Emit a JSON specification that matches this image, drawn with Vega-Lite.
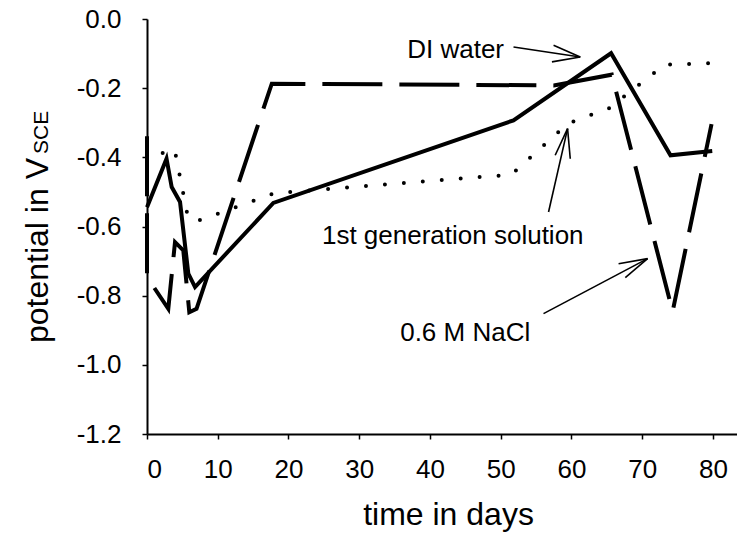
{
  "$schema": "https://vega.github.io/schema/vega-lite/v6.json",
  "width": 590,
  "height": 415,
  "autosize": {"type": "none"},
  "padding": {"left": 147, "top": 19, "right": 0, "bottom": 101},
  "background": "white",
  "config": {
    "view": {"stroke": null},
    "font": "Liberation Sans",
    "axis": {
      "grid": false,
      "domainColor": "black",
      "domainWidth": 2,
      "tickColor": "black",
      "tickWidth": 1.5,
      "labelColor": "black",
      "titleColor": "black",
      "labelFont": "Liberation Sans",
      "titleFont": "Liberation Sans",
      "titleFontWeight": "normal"
    }
  },
  "datasets": {
    "series": [
      {"series": "DI water", "i": 1, "day": 0, "v": -0.544},
      {"series": "DI water", "i": 2, "day": 2.76, "v": -0.404},
      {"series": "DI water", "i": 3, "day": 3.49, "v": -0.486},
      {"series": "DI water", "i": 4, "day": 4.67, "v": -0.529},
      {"series": "DI water", "i": 5, "day": 5.84, "v": -0.736},
      {"series": "DI water", "i": 6, "day": 6.79, "v": -0.775},
      {"series": "DI water", "i": 7, "day": 17.86, "v": -0.532},
      {"series": "DI water", "i": 8, "day": 51.8, "v": -0.293},
      {"series": "DI water", "i": 9, "day": 65.6, "v": -0.099},
      {"series": "DI water", "i": 10, "day": 74.0, "v": -0.394},
      {"series": "DI water", "i": 11, "day": 79.9, "v": -0.382},
      {"series": "0.6 M NaCl", "i": 1, "day": 0, "v": -0.339},
      {"series": "0.6 M NaCl", "i": 2, "day": 0, "v": -0.746},
      {"series": "0.6 M NaCl", "i": 3, "day": 3.01, "v": -0.838},
      {"series": "0.6 M NaCl", "i": 4, "day": 3.96, "v": -0.645},
      {"series": "0.6 M NaCl", "i": 5, "day": 5.13, "v": -0.669},
      {"series": "0.6 M NaCl", "i": 6, "day": 5.98, "v": -0.848},
      {"series": "0.6 M NaCl", "i": 7, "day": 7.0, "v": -0.838},
      {"series": "0.6 M NaCl", "i": 8, "day": 17.64, "v": -0.187},
      {"series": "0.6 M NaCl", "i": 9, "day": 57.5, "v": -0.192},
      {"series": "0.6 M NaCl", "i": 10, "day": 65.7, "v": -0.161},
      {"series": "0.6 M NaCl", "i": 11, "day": 74.3, "v": -0.846},
      {"series": "0.6 M NaCl", "i": 12, "day": 79.8, "v": -0.304},
      {"series": "1st generation solution", "i": 1, "day": 0, "v": -0.365},
      {"series": "1st generation solution", "i": 2, "day": 1.6, "v": -0.391},
      {"series": "1st generation solution", "i": 3, "day": 3.9, "v": -0.377},
      {"series": "1st generation solution", "i": 4, "day": 5.8, "v": -0.575},
      {"series": "1st generation solution", "i": 5, "day": 7.0, "v": -0.585},
      {"series": "1st generation solution", "i": 6, "day": 18.0, "v": -0.504},
      {"series": "1st generation solution", "i": 7, "day": 51.5, "v": -0.45},
      {"series": "1st generation solution", "i": 8, "day": 59.5, "v": -0.302},
      {"series": "1st generation solution", "i": 9, "day": 65.3, "v": -0.258},
      {"series": "1st generation solution", "i": 10, "day": 73.2, "v": -0.132},
      {"series": "1st generation solution", "i": 11, "day": 79.8, "v": -0.128}
    ],
    "arrows": [
      {"day": 51.81, "v": -0.081, "day2": 61.24, "v2": -0.110},
      {"day": 61.24, "v": -0.110, "day2": 57.47, "v2": -0.076},
      {"day": 61.24, "v": -0.110, "day2": 57.24, "v2": -0.124},
      {"day": 56.76, "v": -0.558, "day2": 59.45, "v2": -0.317},
      {"day": 59.45, "v": -0.317, "day2": 57.7, "v2": -0.394},
      {"day": 59.45, "v": -0.317, "day2": 59.83, "v2": -0.404},
      {"day": 56.05, "v": -0.852, "day2": 70.76, "v2": -0.693},
      {"day": 70.76, "v": -0.693, "day2": 66.66, "v2": -0.7075},
      {"day": 70.76, "v": -0.693, "day2": 67.61, "v2": -0.748}
    ],
    "notesLeft": [
      {"label": "DI water", "day": 36.78, "v": -0.112},
      {"label": "0.6 M NaCl", "day": 35.79, "v": -0.932}
    ],
    "notesRight": [
      {"label": "1st generation solution", "day": 61.71, "v": -0.652}
    ],
    "sub": [
      {"label": "SCE", "day": -13.93, "v": -0.328}
    ]
  },
  "encoding": {
    "x": {
      "field": "day",
      "type": "quantitative",
      "scale": {"domain": [0, 83.4], "nice": false, "zero": false},
      "axis": {
        "title": "time in days",
        "values": [0, 10, 20, 30, 40, 50, 60, 70, 80],
        "format": "d",
        "labelFontSize": 26,
        "tickSize": 5,
        "labelPadding": 17,
        "titleFontSize": 32,
        "titleBaseline": "alphabetic",
        "titleX": 301,
        "titleY": 90
      }
    },
    "y": {
      "field": "v",
      "type": "quantitative",
      "scale": {"domain": [-1.2, 0], "nice": false, "zero": false},
      "axis": {
        "title": "potential in V",
        "values": [-1.2, -1.0, -0.8, -0.6, -0.4, -0.2, 0],
        "labelExpr": "replace(format(datum.value, '.1f'), '\u2212', '-')",
        "labelFontSize": 26,
        "tickSize": 5,
        "labelPadding": 21,
        "titleFontSize": 32,
        "titleAngle": 270,
        "titleAlign": "center",
        "titleBaseline": "alphabetic",
        "titleX": -100,
        "titleY": 231
      }
    }
  },
  "layer": [
    {
      "data": {"name": "series"},
      "transform": [{"filter": "datum.series === 'DI water'"}],
      "mark": {"type": "line", "color": "black", "strokeWidth": 4, "strokeJoin": "miter"},
      "encoding": {"order": {"field": "i", "type": "quantitative"}}
    },
    {
      "data": {"name": "series"},
      "transform": [{"filter": "datum.series === '0.6 M NaCl'"}],
      "mark": {"type": "line", "color": "black", "strokeWidth": 4, "strokeDash": [60, 17]},
      "encoding": {"order": {"field": "i", "type": "quantitative"}}
    },
    {
      "data": {"name": "series"},
      "transform": [{"filter": "datum.series === '1st generation solution'"}],
      "mark": {"type": "line", "color": "black", "strokeWidth": 4, "strokeDash": [0, 19], "strokeCap": "round"},
      "encoding": {"order": {"field": "i", "type": "quantitative"}}
    },
    {
      "data": {"name": "arrows"},
      "mark": {"type": "rule", "color": "black", "strokeWidth": 1.6},
      "encoding": {
        "x2": {"field": "day2"},
        "y2": {"field": "v2"}
      }
    },
    {
      "data": {"name": "notesLeft"},
      "mark": {"type": "text", "align": "left", "baseline": "alphabetic", "fontSize": 26, "font": "Liberation Sans", "color": "black"},
      "encoding": {"text": {"field": "label"}}
    },
    {
      "data": {"name": "notesRight"},
      "mark": {"type": "text", "align": "right", "baseline": "alphabetic", "fontSize": 26, "font": "Liberation Sans", "color": "black"},
      "encoding": {"text": {"field": "label"}}
    },
    {
      "data": {"name": "sub"},
      "mark": {"type": "text", "align": "center", "baseline": "alphabetic", "angle": 270, "fontSize": 21, "font": "Liberation Sans", "color": "black"},
      "encoding": {"text": {"field": "label"}}
    }
  ]
}
